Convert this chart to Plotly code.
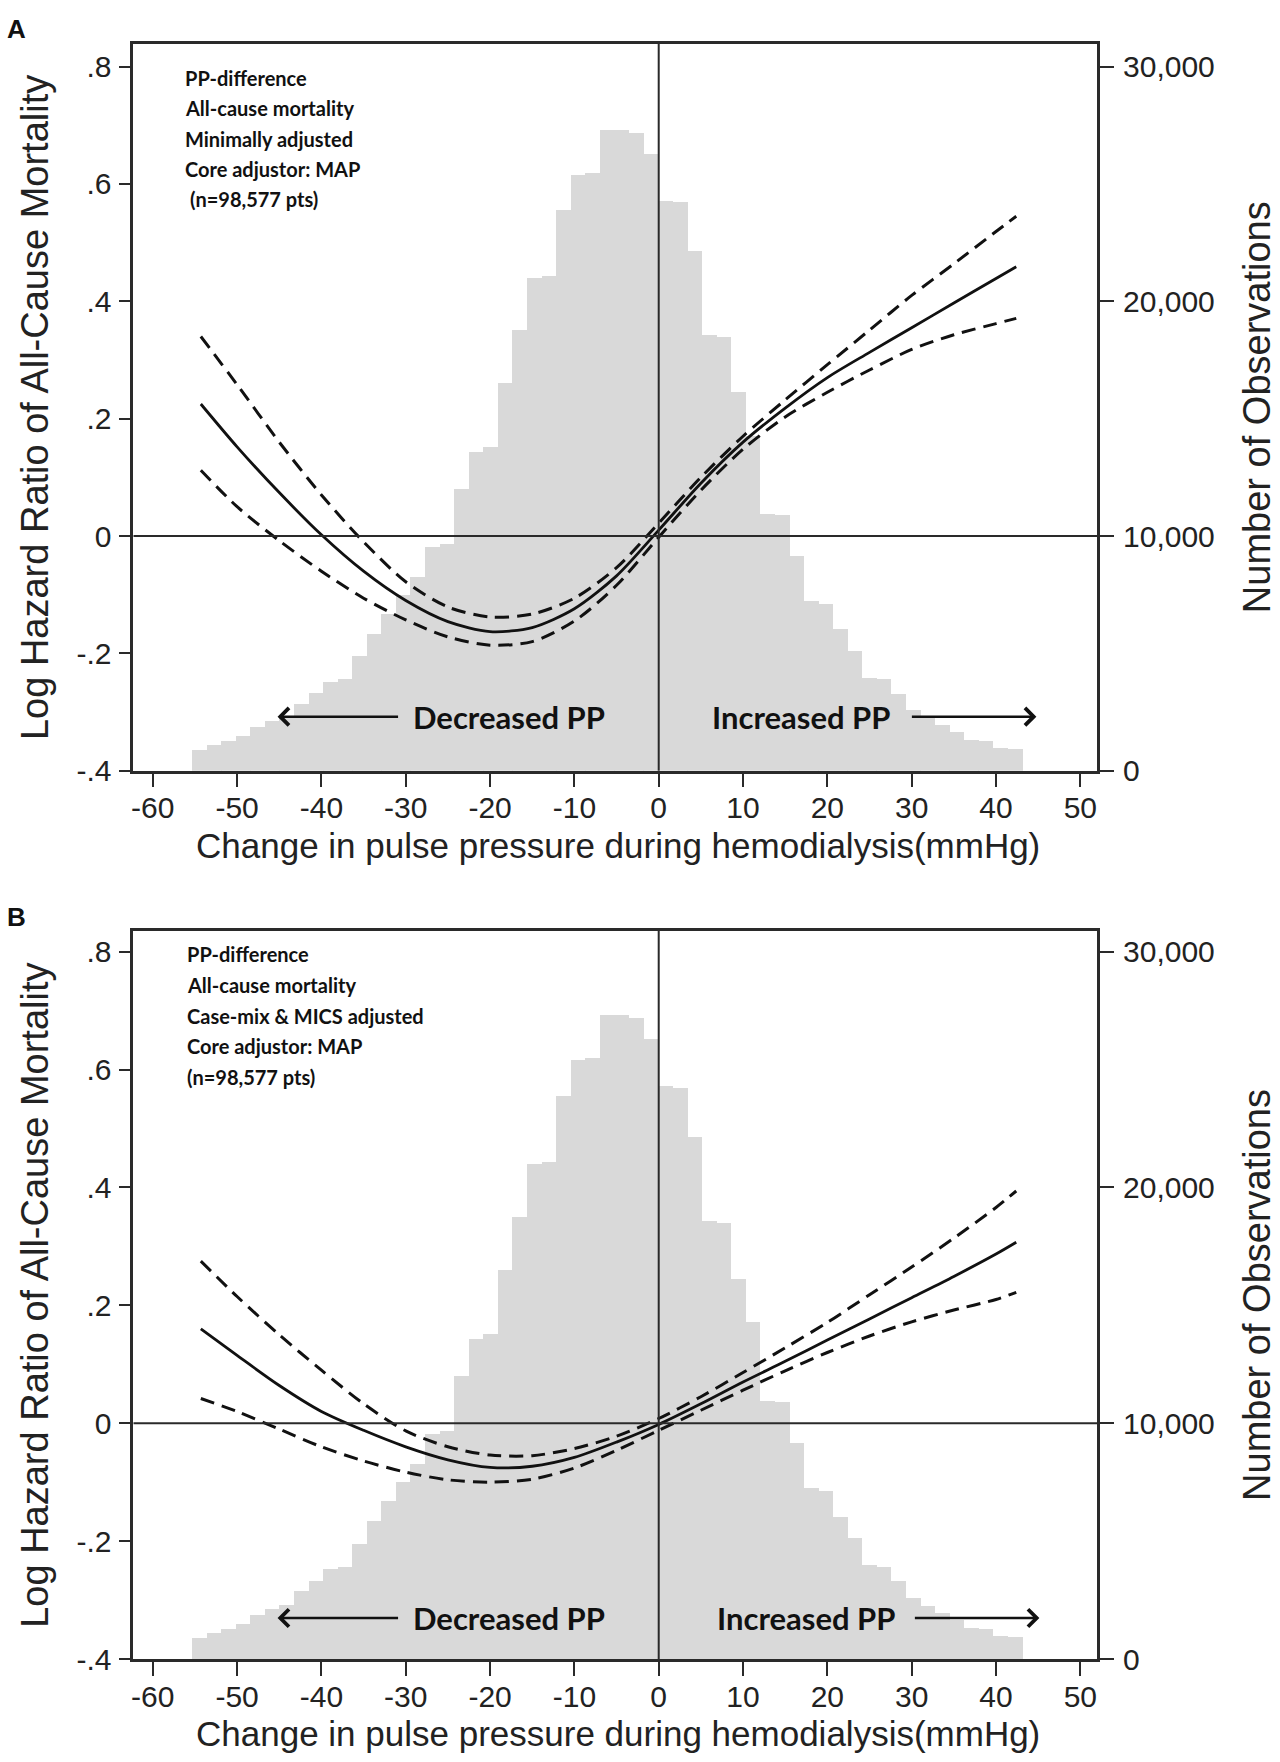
import plotly.graph_objects as go

# The screenshot squeezes the page vertically by ~0.9904 (a 1779px-high capture shown at 1762),
# so the figure is drawn 1779 px high; all positions are given in target-screen pixels.
W = 1280
SCREEN_H = 1762
H = 1779

# ---------------- data ----------------
# Histogram of observations (identical in both panels)
BIN_WIDTH = 1.727
BIN_CENTERS = [-54.40, -52.67, -50.95, -49.22, -47.49, -45.77, -44.04, -42.31, -40.58, -38.86,
               -37.13, -35.40, -33.68, -31.95, -30.22, -28.50, -26.77, -25.04, -23.31, -21.59,
               -19.86, -18.13, -16.41, -14.68, -12.95, -11.22, -9.50, -7.77, -6.04, -4.32,
               -2.59, -0.86, 0.86, 2.59, 4.32, 6.04, 7.77, 9.50, 11.22, 12.95,
               14.68, 16.41, 18.13, 19.86, 21.59, 23.31, 25.04, 26.77, 28.50, 30.22,
               31.95, 33.68, 35.40, 37.13, 38.86, 40.58, 42.31]
COUNTS = [900, 1100, 1280, 1480, 1900, 2150, 2300, 2880, 3320, 3820,
          3920, 4890, 5850, 6700, 7500, 8270, 9550, 9700, 12030, 13600,
          13800, 16530, 18780, 21000, 21100, 23900, 25400, 25500, 27320, 27330,
          27180, 26300, 24300, 24250, 22170, 18600, 18500, 16150, 14300, 10950,
          10900, 9190, 7250, 7120, 6040, 5140, 3980, 3920, 3310, 2590,
          2250, 1950, 1650, 1320, 1300, 1000, 930]

# Spline estimates (log hazard ratio) with 95% confidence limits
CURVE_X = [-54.3, -50, -45, -40, -35, -30, -25, -20, -15, -10, -5, 0,
           5, 10, 15, 20, 25, 30, 35, 40, 42.4]
A_EST = [0.225, 0.152, 0.074, 0.002, -0.060, -0.110, -0.146, -0.163, -0.156, -0.124, -0.068, 0.010,
         0.090, 0.160, 0.218, 0.270, 0.313, 0.355, 0.397, 0.439, 0.459]
A_UPPER = [0.340, 0.258, 0.160, 0.070, -0.010, -0.078, -0.121, -0.138, -0.133, -0.106, -0.054, 0.022,
           0.100, 0.170, 0.232, 0.292, 0.351, 0.410, 0.464, 0.519, 0.545]
A_LOWER = [0.112, 0.050, -0.008, -0.060, -0.106, -0.143, -0.172, -0.186, -0.180, -0.145, -0.084, -0.002,
           0.078, 0.148, 0.203, 0.245, 0.283, 0.318, 0.343, 0.362, 0.371]
B_EST = [0.160, 0.115, 0.064, 0.020, -0.012, -0.040, -0.062, -0.075, -0.073, -0.058, -0.032, -0.002,
         0.033, 0.070, 0.105, 0.141, 0.177, 0.213, 0.249, 0.287, 0.307]
B_UPPER = [0.275, 0.215, 0.150, 0.090, 0.033, -0.013, -0.040, -0.054, -0.055, -0.043, -0.022, 0.008,
           0.045, 0.086, 0.128, 0.171, 0.218, 0.265, 0.314, 0.366, 0.394]
B_LOWER = [0.042, 0.020, -0.010, -0.040, -0.064, -0.083, -0.096, -0.100, -0.095, -0.076, -0.046, -0.012,
           0.022, 0.056, 0.089, 0.120, 0.148, 0.172, 0.192, 0.210, 0.222]

X_TICKS = [-60, -50, -40, -30, -20, -10, 0, 10, 20, 30, 40, 50]
X_LABELS = ['-60', '-50', '-40', '-30', '-20', '-10', '0', '10', '20', '30', '40', '50']
LHR_TICKS = [-0.4, -0.2, 0, 0.2, 0.4, 0.6, 0.8]
LHR_LABELS = ['-.4', '-.2', '0', '.2', '.4', '.6', '.8']
OBS_TICKS = [0, 10000, 20000, 30000]
OBS_LABELS = ['0', '10,000', '20,000', '30,000']

TEXT_A = ['PP-difference', 'All-cause mortality', 'Minimally adjusted', 'Core adjustor: MAP', '(n=98,577 pts)']
TEXT_B = ['PP-difference', 'All-cause mortality', 'Case-mix &amp; MICS adjusted', 'Core adjustor: MAP', '(n=98,577 pts)']

X_TITLE = 'Change in pulse pressure during hemodialysis(mmHg)'
Y_TITLE = 'Log Hazard Ratio of All-Cause Mortality'
Y2_TITLE = 'Number of Observations'

# ---------------- styling / geometry ----------------
ARIAL = 'Liberation Sans, Arial, Helvetica, sans-serif'
CALI = 'Lato, Noto Sans, sans-serif'
AX = '#2a2a2a'
INK = '#111111'
BAR = '#d9d9d9'


def px(p):
    return p / W


def py(p):
    return 1 - p / SCREEN_H


XDOM = [px(131.7), px(1097)]
X_RANGE = [-62.285, 52.01]

panels = [
    dict(label='A', top=43.5, bottom=770.7, lhr_top=0.8394, est=A_EST, up=A_UPPER, lo=A_LOWER,
         text=TEXT_A, text_x=[181, 181, 181, 181, 186], text_y=[78, 108.5, 139, 169, 199],
         label_y=29, arrow_y=716.7, dec_x=508, inc_x=800, inc_head=1036, inc_tail=910,
         xtitle_y=846),
    dict(label='B', top=930.7, bottom=1659, lhr_top=0.8356, est=B_EST, up=B_UPPER, lo=B_LOWER,
         text=TEXT_B, text_x=[183, 183, 183, 183, 183], text_y=[954, 985, 1015.5, 1046, 1076.5],
         label_y=917, arrow_y=1618, dec_x=508, inc_x=805, inc_head=1039, inc_tail=913,
         xtitle_y=1733),
]

fig = go.Figure()
annotations = []
shapes = []
layout = {}

tickfont = dict(family=ARIAL, size=30, color='#222')

for i, p in enumerate(panels):
    n = i + 1
    xa = 'x' if n == 1 else 'x2'
    ya_cnt = 'y' if n == 1 else 'y3'
    ya_lhr = 'y2' if n == 1 else 'y4'
    xkey = 'xaxis' if n == 1 else 'xaxis2'
    ckey = 'yaxis' if n == 1 else 'yaxis3'
    lkey = 'yaxis2' if n == 1 else 'yaxis4'

    # histogram on count (base) axis; bars drawn a hair wider so neighbours overlap without seams
    fig.add_trace(go.Bar(x=BIN_CENTERS, y=COUNTS, width=BIN_WIDTH * 1.03,
                         marker=dict(color=BAR, line=dict(width=0)),
                         xaxis=xa, yaxis=ya_cnt, showlegend=False, hoverinfo='skip'))
    # curves on log hazard axis
    for ys, dash, lw in [(p['up'], '14px,8px', 3.0), (p['est'], 'solid', 2.8), (p['lo'], '14px,8px', 3.0)]:
        fig.add_trace(go.Scatter(x=CURVE_X, y=ys, mode='lines',
                                 line=dict(color=INK, width=lw, dash=dash, shape='spline', smoothing=0.8),
                                 xaxis=xa, yaxis=ya_lhr, showlegend=False, hoverinfo='skip'))

    ydom = [py(p['bottom']), py(p['top'])]
    cnt_top = (p['lhr_top'] + 0.4) * 25000

    layout[xkey] = dict(domain=XDOM, anchor=ya_cnt, range=X_RANGE, tickvals=X_TICKS, ticktext=X_LABELS,
                        ticks='outside', ticklen=14, tickwidth=2, tickcolor=AX,
                        showline=True, linecolor=AX, linewidth=2.5, mirror=True,
                        showgrid=False, zeroline=False, tickfont=tickfont,
                        ticklabelstandoff=-5, fixedrange=True)
    layout[ckey] = dict(domain=ydom, anchor=xa, side='right', range=[0, cnt_top],
                        tickvals=OBS_TICKS, ticktext=OBS_LABELS,
                        ticks='outside', ticklen=14, tickwidth=2, tickcolor=AX,
                        showline=True, linecolor=AX, linewidth=2.5, mirror=True,
                        showgrid=False, zeroline=False, tickfont=tickfont,
                        ticklabelstandoff=3, fixedrange=True)
    layout[lkey] = dict(overlaying=ya_cnt, anchor=xa, side='left', range=[-0.4, p['lhr_top']],
                        tickvals=LHR_TICKS, ticktext=LHR_LABELS,
                        ticks='outside', ticklen=13, tickwidth=2, tickcolor=AX,
                        showline=False, showgrid=False, zeroline=False, tickfont=tickfont,
                        ticklabelstandoff=2, fixedrange=True)

    # reference lines at 0
    shapes.append(dict(type='line', xref=f'{xa} domain', yref=ya_lhr, x0=0, x1=1, y0=0, y1=0,
                       line=dict(color=AX, width=2)))
    shapes.append(dict(type='line', xref=xa, yref=f'{ya_cnt} domain', x0=0, x1=0, y0=0, y1=1,
                       line=dict(color=AX, width=2)))

    # panel label
    annotations.append(dict(text=f'<b>{p["label"]}</b>', x=px(3), y=py(p['label_y']),
                            xref='paper', yref='paper', xanchor='left', yanchor='middle',
                            showarrow=False, font=dict(family=ARIAL, size=26, color=INK)))
    # info text
    for t, tx, ty in zip(p['text'], p['text_x'], p['text_y']):
        annotations.append(dict(text=f'<b>{t}</b>', x=px(tx), y=py(ty), xref='paper', yref='paper',
                                xanchor='left', yanchor='middle', showarrow=False,
                                font=dict(family=CALI, size=20, color=INK)))
    # direction labels
    annotations.append(dict(text='<b>Decreased PP</b>', x=px(p['dec_x']), y=py(p['arrow_y']),
                            xref='paper', yref='paper', xanchor='center', yanchor='middle',
                            showarrow=False, font=dict(family=CALI, size=31, color=INK)))
    annotations.append(dict(text='', x=px(276), y=py(p['arrow_y']), xref='paper', yref='paper',
                            ax=122, ay=0, showarrow=True, arrowhead=4, arrowsize=1.4,
                            arrowwidth=2.4, arrowcolor=INK))
    annotations.append(dict(text='<b>Increased PP</b>', x=px(p['inc_x']), y=py(p['arrow_y']),
                            xref='paper', yref='paper', xanchor='center', yanchor='middle',
                            showarrow=False, font=dict(family=CALI, size=31, color=INK)))
    annotations.append(dict(text='', x=px(p['inc_head']), y=py(p['arrow_y']), xref='paper', yref='paper',
                            ax=-(p['inc_head'] - p['inc_tail']), ay=0, showarrow=True, arrowhead=4,
                            arrowsize=1.4, arrowwidth=2.4, arrowcolor=INK))
    # axis titles
    mid = (p['top'] + p['bottom']) / 2
    annotations.append(dict(text=Y_TITLE, x=px(33), y=py(mid), xref='paper', yref='paper',
                            xanchor='center', yanchor='middle', textangle=-90, showarrow=False,
                            font=dict(family=ARIAL, size=38, color='#222')))
    annotations.append(dict(text=Y2_TITLE, x=px(1257), y=py(mid), xref='paper', yref='paper',
                            xanchor='center', yanchor='middle', textangle=-90, showarrow=False,
                            font=dict(family=ARIAL, size=38, color='#222')))
    annotations.append(dict(text=X_TITLE, x=px(617), y=py(p['xtitle_y']), xref='paper', yref='paper',
                            xanchor='center', yanchor='middle', showarrow=False,
                            font=dict(family=ARIAL, size=35, color='#222')))

fig.update_layout(
    width=W, height=H,
    margin=dict(l=0, r=0, t=0, b=0),
    paper_bgcolor='white', plot_bgcolor='white',
    bargap=0, barmode='overlay',
    showlegend=False,
    annotations=annotations,
    shapes=shapes,
    **layout,
)

# pin the figure to the top-left corner of the window (no body margin, no page overflow)
PAGE_JS = ("document.body.style.margin='0';document.body.style.padding='0';"
           "document.documentElement.style.overflow='hidden';"
           "var gd=document.getElementById('{plot_id}');"
           "gd.style.position='fixed';gd.style.left='0px';gd.style.top='0px';")
fig.write_html('out.html', post_script=PAGE_JS, config={'displayModeBar': False})
